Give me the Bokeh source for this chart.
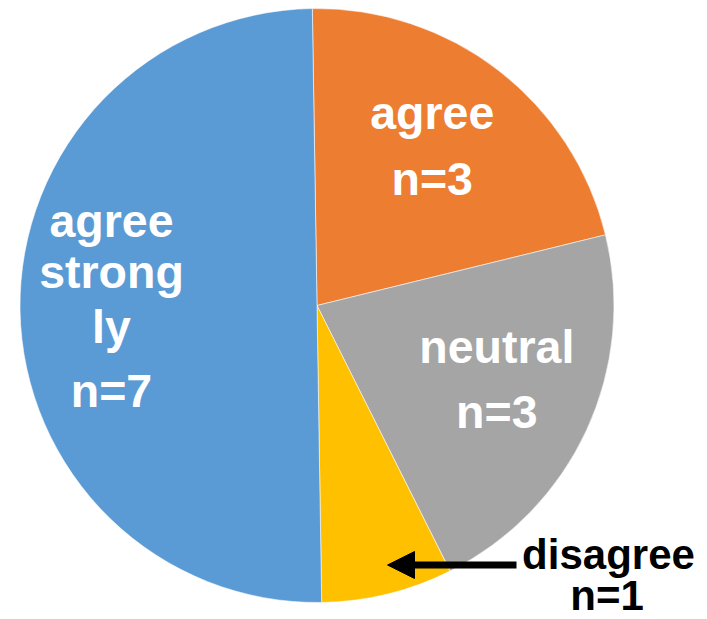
import math
from bokeh.plotting import figure
from bokeh.models import Range1d, Arrow, NormalHead
from bokeh.core.properties import value
from bokeh.embed import file_html
from bokeh.resources import INLINE

# ---- data ----
categories = ["agree", "neutral", "disagree", "agree strongly"]
counts = [3, 3, 1, 7]
colors = ["#ED7D31", "#A5A5A5", "#FFC000", "#5B9BD5"]
label_lines = [["agree", "n=3"], ["neutral", "n=3"], ["disagree", "n=1"],
               ["agree", "strong", "ly", "n=7"]]

# ---- layout ----
W, H = 707, 619
CX, CY = 316.5, H - 305.0
R = 297.0
START = 90.9  # degrees, counter-clockwise from +x; slices go clockwise
TY = 10.0     # baseline correction for text

p = figure(width=W, height=H, x_range=Range1d(0, W), y_range=Range1d(0, H),
           output_backend="svg", toolbar_location=None, min_border=0,
           background_fill_color="white", border_fill_color="white")
p.axis.visible = False
p.grid.visible = False
p.outline_line_color = None

total = sum(counts)
starts, ends, mids = [], [], []
a = START
for c in counts:
    sweep = 360.0 * c / total
    starts.append(math.radians(a))
    ends.append(math.radians(a - sweep))
    mids.append(a - sweep / 2)
    a -= sweep

p.wedge(x=[CX] * len(counts), y=[CY] * len(counts), radius=R,
        start_angle=starts, end_angle=ends, direction="clock",
        fill_color=colors, line_color="white", line_width=0.8, line_alpha=0.7)

font = value("Liberation Sans")

# inside labels: block placed along slice mid-angle
frac = {0: 0.635, 1: 0.667, 3: 0.692}
offsets = {0: [33, -33], 1: [32, -33], 3: [78, 27, -28, -92]}
for i in (0, 1, 3):
    ang = math.radians(mids[i])
    bx = CX + frac[i] * R * math.cos(ang)
    by = CY + frac[i] * R * math.sin(ang)
    lines = label_lines[i]
    p.text(x=[bx] * len(lines), y=[by + o + TY for o in offsets[i]], text=lines,
           text_font=font, text_font_style="bold", text_font_size="46.5px",
           text_color="white", text_align="center", text_baseline="alphabetic")

# outside label for the small slice
lx, ly = 608, H - 564 + TY
p.text(x=[lx, lx - 1.5], y=[ly, ly - 41], text=label_lines[2],
       text_font=font, text_font_style="bold", text_font_size="42px",
       text_color="black", text_align="center", text_baseline="alphabetic")

p.add_layout(Arrow(end=NormalHead(size=27, fill_color="black", line_color="black"),
                   x_start=516, y_start=H - 564.5, x_end=387, y_end=H - 564.5,
                   line_color="black", line_width=7))

open("out.html", "w").write(file_html(p, INLINE))
